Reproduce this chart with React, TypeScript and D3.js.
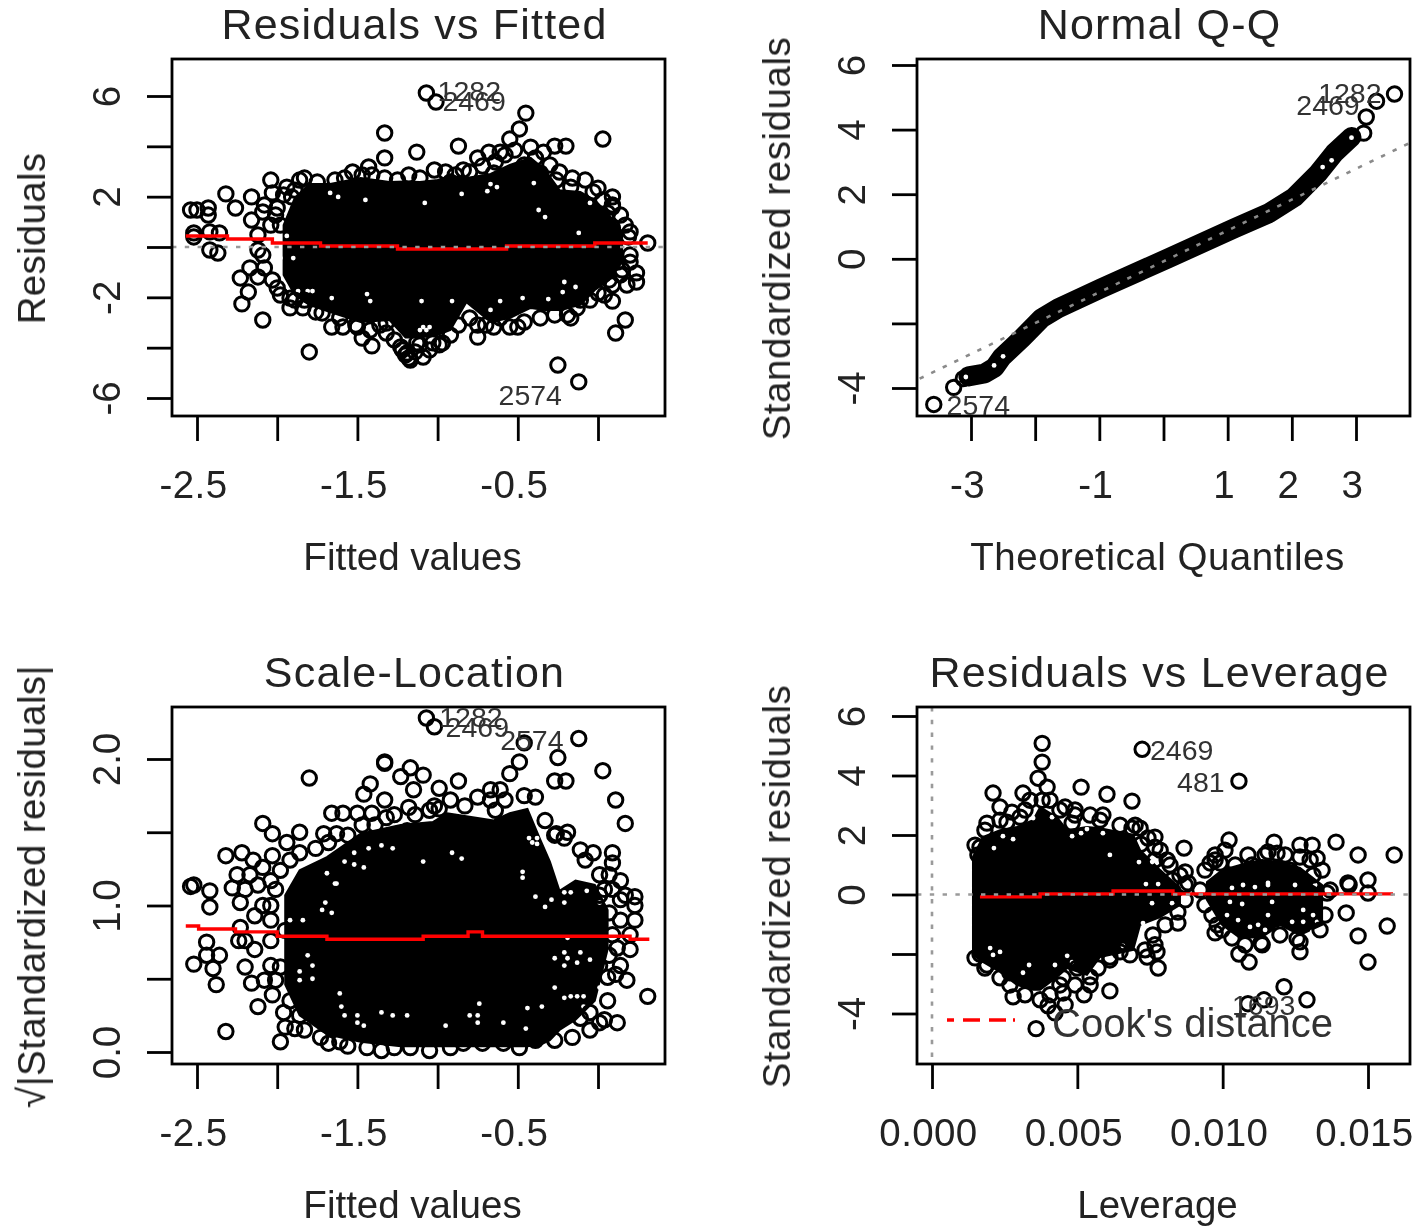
import { useEffect, useRef } from "react";
import * as d3 from "d3";

type Pt = [number, number];

// --- Residuals vs Fitted ---
const rfTicksX = [-2.5, -2, -1.5, -1, -0.5, 0];
const rfLabelsX = [-2.5, -1.5, -0.5];
const rfTicksY = [-6, -4, -2, 0, 2, 4, 6];
const rfLabelsY = [-6, -2, 2, 6];
// dense core: fitted, upper residual, lower residual
const rfCore: [number, number, number][] = [
  [-1.96, 0.87, -1.11], [-1.89, 1.95, -1.91], [-1.8, 2.5, -2.3], [-1.67, 2.5, -2.58],
  [-1.48, 2.74, -2.98], [-1.3, 2.58, -2.9], [-1.2, 2.6, -3.6], [-1.11, 2.58, -3.6], [-1.0, 2.66, -3.5],
  [-0.92, 2.82, -3.3], [-0.82, 2.74, -2.19], [-0.67, 2.9, -2.98], [-0.55, 3.26, -2.82],
  [-0.42, 3.54, -2.42], [-0.33, 3.06, -2.5], [-0.24, 2.26, -2.5], [-0.11, 2.19, -2.3],
  [-0.02, 1.87, -1.71], [0.07, 1.27, -1.31], [0.15, 0.6, -0.6],
];
const rfPoints: Pt[] = [
  [-1.33, 4.53], [-1.33, 3.54], [-1.13, 3.77], [-1.07, 6.12], [-1.01, 5.76], [-1.43, 3.18], [-1.47, 2.86],
  [-1.02, 3.06], [-1.25, 2.66], [-1.64, 2.66], [-1.86, 2.66], [-2.04, 2.66], [-1.94, 2.38], [-2.16, 1.99],
  [-2.32, 2.11], [-2.26, 1.55], [-2.54, 1.47], [-2.5, 1.47], [-2.43, 1.55], [-2.43, 1.27], [-2.42, 0.6],
  [-2.52, 0.56], [-2.36, 0.56], [-2.16, 1.07], [-2.03, 2.15], [-1.91, 1.99], [-2.08, 1.67], [-2.01, 1.27],
  [-1.98, 0.87], [-0.45, 5.32], [-0.49, 4.69], [-0.55, 4.29], [-0.61, 3.77], [-0.68, 3.77], [-0.75, 3.54],
  [-0.87, 4.01], [0.03, 4.29], [-0.27, 4.01], [-0.2, 4.01], [-0.39, 3.54], [-0.46, 3.26], [-0.84, 3.06],
  [-0.92, 2.58], [-0.65, 2.94], [-0.36, 2.94], [-0.26, 2.66], [-0.17, 2.38], [-0.03, 2.19], [0.09, 1.99],
  [0.09, 1.59], [0.06, 1.35], [0.09, 0.75], [0.19, 0.4], [0.31, 0.16], [-0.3, 2.15], [-0.22, 1.87], [-0.3, 1.67],
  [-2.37, -0.24], [-2.42, -0.12], [-2.52, 0.4], [-2.23, -1.23], [-2.18, -1.79], [-2.22, -2.26], [-2.09, -2.9],
  [-1.8, -4.17], [-2.17, -0.83], [-2.12, -1.19], [-2.12, -0.12], [-2.0, -1.63], [-1.92, -2.03], [-1.92, -2.42],
  [-1.84, -2.42], [-1.72, -2.62], [-1.66, -3.18], [-1.59, -3.18], [-1.5, -3.18], [-1.47, -3.62], [-1.41, -3.93],
  [-1.32, -3.42], [-1.32, -3.02], [-1.23, -3.97], [-1.18, -4.41], [-1.09, -4.37], [-1.2, -4.29], [-1.13, -3.81],
  [-1.17, -4.49], [-1.19, -4.21], [-0.97, -3.81], [-1.03, -3.81], [-1.11, -3.89], [-0.87, -3.1], [-0.75, -3.1],
  [-0.75, -3.58], [-0.65, -3.18], [-0.55, -3.18], [-0.5, -3.18], [-0.19, -2.7], [-0.13, -2.42], [0, -1.83],
  [0.09, -2.15], [0.17, -2.9], [0.11, -3.42], [-0.25, -4.69], [-0.12, -5.36], [0.24, -1.03], [0.24, -1.39],
  [0.18, -1.51], [0.07, -1.31], [0.2, -0.32], [0.12, -0.6],
];
// rings packed along the edge of the core
const rfEdge: Pt[] = [
  [-2.09, 1.39], [-2.04, 0.87], [-2.12, 0.48], [-2.0, 1.55], [-1.96, 2.07], [-1.89, 2.26], [-1.83, 2.74], [-1.75, 2.58],
  [-1.58, 2.74], [-1.53, 2.98], [-1.41, 2.86], [-1.33, 2.74], [-1.18, 2.86], [-1.11, 2.74], [-0.95, 2.98], [-0.89, 2.86],
  [-0.8, 2.98], [-0.72, 3.22], [-0.64, 3.38], [-0.58, 3.66], [-0.52, 3.85], [-0.42, 3.97], [-0.34, 3.77], [-0.3, 3.26],
  [-0.24, 2.98], [-0.16, 2.74], [-0.08, 2.66], [0, 2.34], [0.03, 1.87], [0.09, 1.67], [0.14, 1.27], [0.17, 0.87], [0.2, 0.6],
  [-2.09, -0.32], [-2.08, -0.83], [-2.03, -1.31], [-1.98, -1.91], [-1.89, -2.11], [-1.83, -2.11], [-1.76, -2.58],
  [-1.61, -2.82], [-1.51, -3.1], [-1.42, -3.3], [-1.36, -3.1], [-1.27, -3.69], [-1.22, -4.09], [-1.14, -4.17], [-1.05, -4.09],
  [-0.99, -3.89], [-0.92, -3.5], [-0.8, -2.82], [-0.7, -3.1], [-0.61, -2.82], [-0.46, -2.98], [-0.36, -2.82], [-0.27, -2.7],
  [-0.17, -2.82], [-0.11, -2.11], [-0.05, -2.11], [0.04, -1.91], [0.09, -1.51], [0.14, -1.11], [0.2, -0.6], [0.15, -0.91],
];
const rfGaps: Pt[] = [
  [-1.45, 1.87], [-1.62, 1.99], [-1.67, 2.15], [-1.08, 1.75], [-1.94, 0.44], [-0.85, 2.11], [-0.69, 2.22],
  [-0.63, 2.38], [-0.67, 2.5], [-0.37, 1.47], [-0.33, 1.19], [-0.12, 0.56], [-0.05, 1.75], [-0.4, 2.54],
  [-1.9, -0.44], [-1.98, -0.44], [-1.87, -1.75], [-1.81, -1.75], [-1.78, -1.75], [-1.66, -2.03], [-1.44, -1.87],
  [-1.42, -2.15], [-1.1, -2.15], [-0.91, -2.15], [-0.61, -2.15], [-0.47, -2.03], [-0.31, -2.07], [-0.21, -1.39],
  [-0.22, -1.79], [-0.14, -1.59], [-0.67, -2.5], [-1.07, -3.3], [-1.09, -3.18], [-1.05, -3.18], [-1.11, -3.3],
];
const rfSmooth: Pt[] = [
  [-2.57, 0.44], [-2.31, 0.32], [-2.03, 0.16], [-1.73, 0.04], [-1.25, -0.08], [-0.57, 0.04], [-0.02, 0.16], [0.31, 0.16],
];
const rfIds: [string, number, number][] = [["1282", -1.0, 5.8], ["2469", -0.97, 5.4], ["2574", -0.62, -6.28]];

// --- Normal Q-Q ---
const qqTicksX = [-3, -2, -1, 0, 1, 2, 3];
const qqLabelsX = [-3, -1, 1, 2, 3];
const qqTicksY = [-4, -2, 0, 2, 4, 6];
const qqLabelsY = [-4, 0, 2, 4, 6];
const qqBand: Pt[] = [
  [-3.04, -3.64], [-2.79, -3.55], [-2.63, -3.36], [-2.52, -3.05], [-2.21, -2.47], [-1.9, -1.84], [-1.64, -1.53],
  [-0.97, -0.91], [0.08, 0.02], [1.11, 0.95], [1.64, 1.41], [2.04, 1.91], [2.41, 2.65], [2.66, 3.27], [2.93, 3.77],
];
const qqPoints: Pt[] = [[-3.58, -4.51], [-3.27, -3.98], [-3.12, -3.71], [3.6, 5.1], [3.32, 4.88], [3.16, 4.39], [3.12, 3.89]];
const qqGaps: Pt[] = [[-2.64, -3.3], [-2.5, -3.02], [-3.08, -3.66], [2.48, 2.84], [2.62, 3.05], [2.93, 3.75]];
const qqLine: Pt[] = [[-3.8, -3.71], [3.83, 3.58]];
const qqIds: [string, number, number][] = [["1282", 2.41, 4.82], ["2469", 2.07, 4.45], ["2574", -3.38, -4.85]];

// --- Scale-Location ---
const slTicksY = [0, 0.5, 1, 1.5, 2];
const slLabelsY = [0, 1, 2];
const slCore: [number, number, number][] = [
  [-1.95, 1.07, 0.46], [-1.86, 1.24, 0.25], [-1.69, 1.33, 0.12], [-1.48, 1.49, 0.07], [-1.23, 1.55, 0.04],
  [-1.03, 1.57, 0.04], [-0.94, 1.63, 0.04], [-0.65, 1.58, 0.04], [-0.55, 1.63, 0.04], [-0.44, 1.66, 0.04],
  [-0.36, 1.45, 0.05], [-0.3, 1.3, 0.08], [-0.24, 1.1, 0.15], [-0.14, 1.17, 0.22], [-0.02, 1.14, 0.35], [0.06, 0.97, 0.7],
];
const slPoints: Pt[] = [
  [-1.8, 1.87], [-1.33, 1.97], [-1.33, 1.98], [-1.42, 1.83], [-1.46, 1.76], [-2.09, 1.56], [-2.03, 1.49], [-1.86, 1.5],
  [-1.66, 1.63], [-1.59, 1.63], [-1.5, 1.63], [-1.41, 1.63], [-1.33, 1.72], [-1.32, 1.6], [-1.18, 1.67], [-1.23, 1.88],
  [-1.17, 1.94], [-1.09, 1.89], [-1.15, 1.79], [-1.02, 1.68], [-2.32, 1.34], [-2.22, 1.36], [-2.15, 1.31], [-2.03, 1.34],
  [-1.94, 1.43], [-1.71, 1.49], [-1.63, 1.49], [-1.47, 1.55], [-1.19, 1.51], [-1.27, 1.47], [-1.07, 2.28], [-1.02, 2.22],
  [-2.52, 1.14], [-2.42, 1.1], [-2.25, 1.21], [-2.28, 1.12], [-2.54, 1.13], [-2.42, 0.99], [-2.23, 1.02], [-2.04, 1.0],
  [-2.04, 0.9], [-2.23, 0.85], [-2.44, 0.75], [-2.44, 0.66], [-2.36, 0.66], [-2.52, 0.6], [-2.4, 0.57], [-2.38, 0.46],
  [-2.24, 0.76], [-2.16, 0.47], [-2.12, 0.31], [-2.32, 0.14], [-2.2, 0.58], [-2.03, 0.39], [-1.98, 0.58], [-1.96, 0.27],
  [-1.95, 0.17], [-1.98, 0.07], [-1.68, 0.06], [-1.56, 0.04], [-1.44, 0.03], [-1.35, 0.01], [-1.05, 0.01], [-0.84, 0.06],
  [-0.72, 0.06], [-0.59, 0.06], [-0.39, 0.08], [-0.16, 0.1], [0.01, 0.2], [0.12, 0.2], [-0.11, 0.23], [0.31, 0.38],
  [0.18, 0.49], [0.14, 0.59], [0.23, 0.9], [0.23, 1.0], [0.23, 1.06], [0.07, 0.95], [0.12, 0.71], [0.06, 0.51],
  [-0.46, 2.11], [-0.49, 1.98], [-0.55, 1.9], [-0.61, 1.79], [-0.67, 1.79], [-0.75, 1.74], [-0.87, 1.85], [-0.25, 2.01],
  [-0.12, 2.14], [-0.27, 1.85], [-0.2, 1.85], [0.03, 1.92], [0.11, 1.72], [0.17, 1.56], [-0.39, 1.74], [-0.99, 1.66],
  [-0.99, 1.8], [-0.64, 1.65], [-0.19, 1.5], [-0.26, 1.49], [0.09, 1.36], [-0.03, 1.36], [0.09, 1.29], [0.07, 1.21], [-0.11, 1.38],
];
const slEdge: Pt[] = [
  [-2.17, 1.21], [-2.09, 1.26], [-2.04, 1.17], [-1.98, 1.24], [-1.92, 1.31], [-1.86, 1.36], [-1.76, 1.39], [-1.68, 1.43],
  [-1.56, 1.48], [-1.39, 1.55], [-1.27, 1.62], [-1.14, 1.62], [-1.05, 1.65], [-0.92, 1.72], [-0.83, 1.68], [-0.67, 1.72],
  [-0.58, 1.72], [-0.46, 1.75], [-0.33, 1.58], [-0.27, 1.48], [-0.21, 1.46], [-0.08, 1.31], [0.01, 1.21], [0.14, 1.17],
  [0.04, 1.11], [-2.2, 1.11], [-2.12, 1.14], [-2.09, 1.0], [-2.01, 1.11], [-2.14, 0.93], [-2.2, 0.76], [-2.14, 0.7],
  [-2.04, 0.76], [-1.95, 0.83], [-2.04, 0.59], [-2.08, 0.49], [-2.01, 0.49], [-1.92, 0.35], [-1.86, 0.25], [-1.83, 0.15],
  [-1.73, 0.1], [-1.89, 0.16], [-1.61, 0.07], [-1.27, 0.03], [-1.17, 0.03], [-0.92, 0.03], [-0.49, 0.03], [-0.27, 0.08],
  [-0.05, 0.15], [0.04, 0.22], [0.01, 0.9], [0.09, 0.8], [0.14, 0.9], [0.07, 0.66], [0.01, 0.59], [-0.05, 0.53], [0.11, 0.53],
  [0.2, 0.7], [0.2, 0.8], [0.14, 1.04], [0.01, 1.07], [0.09, 1.11], [0.17, 1.07], [0.06, 0.35], [-0.05, 0.27],
];
const slGaps: Pt[] = [
  [-1.81, 0.66], [-1.78, 0.59], [-1.86, 0.55], [-1.86, 0.49], [-1.78, 0.5], [-1.61, 0.4], [-1.6, 0.31], [-1.58, 0.25],
  [-1.5, 0.25], [-1.5, 0.2], [-1.46, 0.18], [-1.35, 0.27], [-1.28, 0.25], [-1.19, 0.25], [-0.95, 0.18], [-0.8, 0.25],
  [-0.75, 0.25], [-0.75, 0.2], [-0.74, 0.33], [-0.59, 0.2], [-0.45, 0.16], [-0.44, 0.3], [-0.35, 0.31], [-0.27, 0.44],
  [-0.27, 0.64], [-0.21, 0.59], [-0.21, 0.68], [-0.19, 0.64], [-0.11, 0.68], [-0.13, 0.61], [-0.05, 0.63], [-0.19, 0.78],
  [-1.84, 0.9], [-1.92, 0.9], [-1.7, 1.02], [-1.72, 0.97], [-1.66, 0.95], [-1.63, 1.15], [-0.39, 1.06], [-0.33, 0.99],
  [-0.29, 1.04], [-0.21, 1.02], [-0.21, 1.09], [-0.17, 1.09], [-0.07, 1.1], [0.01, 1.02], [-0.17, 0.38], [-0.13, 0.38],
  [-0.09, 0.38], [-0.21, 0.37], [-0.09, 0.31], [0.01, 0.44], [-1.69, 1.22], [-1.52, 1.36], [-1.43, 1.39], [-1.35, 1.41],
  [-1.28, 1.39], [-1.09, 1.3], [-1.52, 1.28], [-1.46, 1.26], [-1.58, 1.3], [-1.64, 1.15], [-0.41, 1.43], [-0.38, 1.42],
  [-0.43, 1.46], [-0.38, 1.46], [-0.91, 1.36], [-0.85, 1.32], [-0.47, 1.23], [-0.47, 1.19],
];
const slSmooth: Pt[] = [
  [-2.57, 0.86], [-2.49, 0.84], [-2.26, 0.82], [-2.0, 0.79], [-1.69, 0.77], [-1.09, 0.79], [-0.81, 0.82], [-0.72, 0.79], [0.2, 0.77], [0.32, 0.77],
];
const slIds: [string, number, number][] = [["1282", -0.99, 2.22], ["2469", -0.95, 2.15], ["2574", -0.61, 2.06]];

// --- Residuals vs Leverage ---
const rlTicksX = [0, 0.005, 0.01, 0.015];
const rlTicksY = [-4, -2, 0, 2, 4, 6];
const rlLabelsY = [-4, 0, 2, 4, 6];
const rlCoreA: [number, number, number][] = [
  [0.00141, 1.26, -2.03], [0.00175, 1.93, -2.27], [0.00234, 2.16, -2.6], [0.00292, 2.27, -3.04], [0.00348, 2.5, -3.2],
  [0.00372, 2.94, -3.2], [0.0043, 2.6, -2.77], [0.00465, 2.16, -2.47], [0.00533, 2.27, -2.7], [0.00578, 2.23, -2.1],
  [0.00692, 2.0, -1.86], [0.00716, 1.49, -1.02], [0.00785, 0.82, -0.76], [0.00853, 0.22, -0.35],
];
const rlCoreB: [number, number, number][] = [
  [0.00946, 0.42, -0.18], [0.00998, 0.82, -1.02], [0.0106, 0.99, -1.46], [0.01136, 1.16, -1.43],
  [0.01197, 1.09, -1.02], [0.01266, 0.89, -1.36], [0.01342, 0.32, -1.02],
];
const rlPoints: Pt[] = [
  [0.00379, 5.08], [0.00379, 4.45], [0.00365, 3.91], [0.00396, 3.61], [0.0021, 3.41], [0.00234, 2.94], [0.00189, 2.4],
  [0.00313, 3.41], [0.00513, 3.61], [0.00602, 3.37], [0.00688, 3.14], [0.00723, 4.88], [0.00458, 2.94], [0.00492, 2.84],
  [0.00482, 2.4], [0.00588, 2.67], [0.00379, 3.17], [0.00258, 2.43], [0.00303, 2.6], [0.00688, 2.23], [0.00716, 2.23],
  [0.00767, 1.93], [0.00719, 1.69], [0.00767, 1.59], [0.00165, 1.59], [0.00158, 1.33], [0.01056, 3.81], [0.01022, 1.83],
  [0.00867, 1.56], [0.0139, 1.76], [0.01466, 1.33], [0.0159, 1.33], [0.01431, 0.39], [0.015, 0.49], [0.01177, 1.76],
  [0.01156, 1.43], [0.01187, 1.39], [0.01266, 1.66], [0.01308, 1.66], [0.01266, 1.26], [0.01325, 1.22], [0.01101, 0.99],
  [0.00974, 1.33], [0.00991, 1.06], [0.00957, 1.06], [0.01025, 0.65], [0.00871, 0.76], [0.00881, 0.39], [0.01311, 0.65],
  [0.01232, 0.82], [0.00809, 1.16], [0.01435, 0.32], [0.015, 0.05], [0.01425, -0.62], [0.01566, -1.06], [0.01466, -1.39],
  [0.015, -2.27], [0.01256, -1.49], [0.01266, -1.93], [0.01132, -1.63], [0.01056, -2.0], [0.01091, -2.27], [0.00974, -1.29],
  [0.01359, 0.05], [0.01301, 0.05], [0.01211, -3.1], [0.0129, -3.54], [0.01142, -3.54], [0.01087, -3.67], [0.00846, -0.96],
  [0.00778, -2.47], [0.00774, -1.93], [0.0074, -2.1], [0.0076, -1.36], [0.00612, -3.24], [0.00523, -3.37], [0.00279, -3.44],
  [0.00358, -4.51], [0.00451, -3.31], [0.00458, -3.71], [0.00399, -3.74], [0.00423, -3.98], [0.00451, -2.8], [0.00544, -2.77],
  [0.00499, -2.47], [0.00612, -2.1], [0.00647, -1.93], [0.00268, -2.63], [0.00165, -2.0], [0.00189, -2.37], [0.00981, -1.02],
];
const rlEdge: Pt[] = [
  [0.00148, 1.66], [0.00182, 2.16], [0.00234, 2.5], [0.00275, 2.77], [0.0032, 2.84], [0.00337, 3.17], [0.00406, 3.17],
  [0.0044, 2.84], [0.00492, 2.67], [0.00544, 2.67], [0.00578, 2.5], [0.00647, 2.33], [0.00699, 2.33], [0.00743, 1.9],
  [0.00785, 1.49], [0.00819, 0.99], [0.00853, 0.65], [0.00871, 0.32], [0.00826, 0.49], [0.00767, 1.16], [0.00871, -0.18],
  [0.00846, -0.59], [0.00802, -1.02], [0.00767, -1.69], [0.00733, -1.86], [0.00681, -2.03], [0.00612, -2.2], [0.00571, -2.47],
  [0.00544, -3.04], [0.00492, -3.04], [0.0044, -3.04], [0.00406, -3.37], [0.00372, -3.54], [0.0032, -3.37], [0.00268, -3.04],
  [0.00234, -2.8], [0.00182, -2.47], [0.00148, -2.13], [0.00939, 0.82], [0.00974, 1.16], [0.01008, 1.49], [0.01043, 0.99],
  [0.01087, 1.33], [0.01146, 1.33], [0.01215, 1.33], [0.01301, 1.16], [0.01342, 0.82], [0.0137, 0.15], [0.01352, -0.69],
  [0.01335, -1.19], [0.01266, -1.59], [0.01197, -1.36], [0.01136, -1.69], [0.01077, -1.69], [0.01032, -1.46], [0.00998, -1.19],
  [0.00963, -0.69], [0.00939, -0.35], [0.00922, 0.15],
];
const rlGaps: Pt[] = [
  [0.00244, 1.96], [0.00279, 1.86], [0.00213, 1.56], [0.00482, 1.96], [0.00513, 2.06], [0.00533, 2.2], [0.00588, 2.06],
  [0.00612, 1.33], [0.00712, 1.09], [0.00757, 1.09], [0.00757, 1.33], [0.00736, 0.35], [0.00778, 0.35], [0.00413, 2.6],
  [0.00348, 2.57], [0.00757, -0.29], [0.00826, -0.29], [0.00726, -0.96], [0.002, -1.8], [0.00234, -1.93], [0.0021, -2.03],
  [0.00334, -2.37], [0.00465, -2.06], [0.00482, -2.27], [0.00423, -2.37], [0.00657, -1.73], [0.00313, -2.63], [0.01067, -0.32],
  [0.01053, -0.86], [0.01015, -0.69], [0.01025, -0.25], [0.01156, -0.69], [0.01122, -1.02], [0.01094, -1.09], [0.0117, -0.25],
  [0.01146, -1.19], [0.01187, -1.19], [0.01239, -0.92], [0.01277, -0.92], [0.01325, -0.92], [0.01277, -0.52], [0.01311, -0.69],
  [0.01308, -1.26], [0.0107, 0.32], [0.01111, 0.25], [0.01156, 0.32], [0.01032, 0.22], [0.01249, 0.32], [0.01318, 0.32],
  [0.01156, 0.39],
];
const rlSmooth: Pt[] = [[0.00165, -0.08], [0.00372, 0.02], [0.00623, 0.12], [0.00829, 0.02], [0.01586, 0.02]];
const rlIds: [string, number, number][] = [["2469", 0.0075, 4.51], ["481", 0.00843, 3.44], ["1693", 0.01032, -4.04]];

interface PanelSpec {
  left: number;
  top: number;
  title: string;
  xLabel: string;
  yLabel: string;
  xSpacing: number;
  ySpacing: number;
  x: d3.ScaleLinear<number, number>;
  y: d3.ScaleLinear<number, number>;
  ticksX: number[];
  labelsX: number[];
  ticksY: number[];
  labelsY: number[];
  fmtX: (v: number) => string;
  fmtY: (v: number) => string;
  cores?: [number, number, number][][];
  band?: Pt[];
  gaps: Pt[];
  points: Pt[];
  smooth?: Pt[];
  ids: [string, number, number][];
}

const BOX_W = 493;
const BOX_H = 357;
const FONT = "'Liberation Sans', Arial, sans-serif";

const fittedX = () => d3.scaleLinear().domain([-2.5, 0]).range([197, 598]);

const panels: PanelSpec[] = [
  {
    left: 172, top: 59, title: "Residuals vs Fitted", xLabel: "Fitted values", yLabel: "Residuals", xSpacing: 0, ySpacing: 0.3,
    x: fittedX(), y: d3.scaleLinear().domain([-6, 6]).range([398, 96]),
    ticksX: rfTicksX, labelsX: rfLabelsX, ticksY: rfTicksY, labelsY: rfLabelsY,
    fmtX: String, fmtY: String, cores: [rfCore], gaps: rfGaps, points: [...rfPoints, ...rfEdge], smooth: rfSmooth, ids: rfIds,
  },
  {
    left: 917, top: 59, title: "Normal Q-Q", xLabel: "Theoretical Quantiles", yLabel: "Standardized residuals", xSpacing: 0.5, ySpacing: 0.55,
    x: d3.scaleLinear().domain([-3, 3]).range([971, 1356]), y: d3.scaleLinear().domain([-4, 6]).range([388, 65]),
    ticksX: qqTicksX, labelsX: qqLabelsX, ticksY: qqTicksY, labelsY: qqLabelsY,
    fmtX: String, fmtY: String, band: qqBand, gaps: qqGaps, points: qqPoints, ids: qqIds,
  },
  {
    left: 172, top: 707, title: "Scale-Location", xLabel: "Fitted values", yLabel: "\u221A|Standardized residuals|", xSpacing: 0, ySpacing: 0.4,
    x: fittedX(), y: d3.scaleLinear().domain([0, 2]).range([1052, 759]),
    ticksX: rfTicksX, labelsX: rfLabelsX, ticksY: slTicksY, labelsY: slLabelsY,
    fmtX: String, fmtY: (v) => v.toFixed(1), cores: [slCore], gaps: slGaps, points: [...slPoints, ...slEdge], smooth: slSmooth, ids: slIds,
  },
  {
    left: 917, top: 707, title: "Residuals vs Leverage", xLabel: "Leverage", yLabel: "Standardized residuals", xSpacing: 0, ySpacing: 0.55,
    x: d3.scaleLinear().domain([0, 0.015]).range([932, 1368]), y: d3.scaleLinear().domain([-4, 6]).range([1013.5, 716]),
    ticksX: rlTicksX, labelsX: rlTicksX, ticksY: rlTicksY, labelsY: rlLabelsY,
    fmtX: (v) => v.toFixed(3), fmtY: String, cores: [rlCoreA, rlCoreB], gaps: rlGaps, points: [...rlPoints, ...rlEdge], smooth: rlSmooth, ids: rlIds,
  },
];

function drawPanel(root: d3.Selection<SVGGElement, unknown, null, undefined>, p: PanelSpec, i: number) {
  const g = root.append("g");
  const bottom = p.top + BOX_H;
  const right = p.left + BOX_W;
  const clipId = `clip-${i}`;

  g.append("clipPath").attr("id", clipId).append("rect")
    .attr("x", p.left).attr("y", p.top).attr("width", BOX_W).attr("height", BOX_H);

  // dense part of the cloud
  const area = d3.area<[number, number, number]>()
    .x((d) => p.x(d[0])).y0((d) => p.y(d[2])).y1((d) => p.y(d[1]));
  (p.cores || []).forEach((core) => {
    g.append("path").attr("d", area(core)).attr("fill", "#000").attr("stroke", "#000").attr("stroke-width", 2);
  });

  if (p.band) {
    const line = d3.line<Pt>().x((d) => p.x(d[0])).y((d) => p.y(d[1]));
    g.append("path").attr("d", line(p.band)).attr("fill", "none").attr("stroke", "#000")
      .attr("stroke-width", 20).attr("stroke-linejoin", "round").attr("stroke-linecap", "round");
  }

  // specks of white left between the rings
  g.selectAll(".gap").data(p.gaps).enter().append("circle").attr("class", "gap")
    .attr("cx", (d) => p.x(d[0])).attr("cy", (d) => p.y(d[1])).attr("r", 2.4).attr("fill", "#fff");

  g.selectAll(".pt").data(p.points).enter().append("circle").attr("class", "pt")
    .attr("cx", (d) => p.x(d[0])).attr("cy", (d) => p.y(d[1])).attr("r", 7.2)
    .attr("fill", "none").attr("stroke", "#000").attr("stroke-width", 3);

  if (p.smooth) {
    const step = d3.line<Pt>().x((d) => p.x(d[0])).y((d) => p.y(d[1])).curve(d3.curveStepAfter);
    g.append("path").attr("d", step(p.smooth)).attr("fill", "none").attr("stroke", "#f00").attr("stroke-width", 3.4);
  }

  // reference lines
  const dotted = (sel: d3.Selection<SVGLineElement, unknown, null, undefined>) =>
    sel.attr("stroke", "#9a9a9a").attr("stroke-width", 2.6).attr("stroke-dasharray", "4.4 8.4").attr("clip-path", `url(#${clipId})`);
  if (i === 0 || i === 3) {
    g.append("line").attr("x1", p.left).attr("x2", right).attr("y1", p.y(0)).attr("y2", p.y(0)).call(dotted);
  }
  if (i === 3) {
    g.append("line").attr("x1", p.x(0)).attr("x2", p.x(0)).attr("y1", p.top).attr("y2", bottom).call(dotted);
  }
  if (i === 1) {
    g.append("line").attr("x1", p.x(qqLine[0][0])).attr("y1", p.y(qqLine[0][1]))
      .attr("x2", p.x(qqLine[1][0])).attr("y2", p.y(qqLine[1][1])).call(dotted).attr("stroke", "#8a8a8a");
  }

  // axes
  const xAxis = g.append("g").attr("transform", `translate(0,${bottom})`).call(
    d3.axisBottom(p.x).tickValues(p.ticksX).tickSize(25)
      .tickFormat((v) => (p.labelsX.includes(+v) ? p.fmtX(+v) : ""))
  );
  const yAxis = g.append("g").attr("transform", `translate(${p.left},0)`).call(
    d3.axisLeft(p.y).tickValues(p.ticksY).tickSize(25)
      .tickFormat((v) => (p.labelsY.includes(+v) ? p.fmtY(+v) : ""))
  );
  [xAxis, yAxis].forEach((a) => {
    a.select(".domain").remove();
    a.selectAll("line").attr("stroke", "#000").attr("stroke-width", 2.8);
    a.selectAll("text").attr("fill", "#222").style("font-family", FONT).style("font-size", "38.5px");
  });
  xAxis.selectAll("text").attr("x", -4).attr("y", 82).attr("dy", 0).attr("text-anchor", "middle").style("letter-spacing", "0.4px");
  yAxis.selectAll("text").attr("x", 0).attr("y", 0).attr("dy", 0).attr("text-anchor", "middle")
    .attr("transform", "translate(-52,0) rotate(-90)");

  g.append("rect").attr("x", p.left).attr("y", p.top).attr("width", BOX_W).attr("height", BOX_H)
    .attr("fill", "none").attr("stroke", "#000").attr("stroke-width", 2.8);

  // point ids
  g.selectAll(".id").data(p.ids).enter().append("text").attr("class", "id")
    .attr("x", (d) => p.x(d[1])).attr("y", (d) => p.y(d[2])).attr("fill", "#333")
    .style("font-family", FONT).style("font-size", "28.5px").text((d) => d[0]);

  // titles
  g.append("text").attr("x", p.left + BOX_W / 2 - 4).attr("y", p.top - 20).attr("text-anchor", "middle")
    .attr("fill", "#222").style("font-family", FONT).style("font-size", "43px").style("letter-spacing", "1.2px").text(p.title);
  g.append("text").attr("x", p.left + BOX_W / 2 - 6).attr("y", bottom + 154).attr("text-anchor", "middle")
    .attr("fill", "#222").style("font-family", FONT).style("font-size", "38.5px")
    .style("letter-spacing", `${p.xSpacing}px`).text(p.xLabel);
  g.append("text").attr("transform", `translate(${p.left - 127},${p.top + BOX_H / 2 + 1}) rotate(-90)`)
    .attr("text-anchor", "middle").attr("fill", "#222").style("font-family", FONT).style("font-size", "38.5px")
    .style("letter-spacing", `${p.ySpacing}px`).text(p.yLabel);

  // Cook's distance legend
  if (i === 3) {
    g.append("line").attr("x1", 947).attr("x2", 1015).attr("y1", 1020).attr("y2", 1020)
      .attr("stroke", "#f00").attr("stroke-width", 3.4).attr("stroke-dasharray", "7 9 17 9 17");
    g.append("text").attr("x", 1052).attr("y", 1037).attr("fill", "#333")
      .style("font-family", FONT).style("font-size", "40px").text("Cook's distance");
  }
}

export default function App() {
  const ref = useRef<SVGSVGElement>(null);

  useEffect(() => {
    if (!ref.current) return;
    const svg = d3.select(ref.current);
    svg.selectAll("*").remove();

    // the source is a small raster scaled up, so everything is a little soft
    svg.append("filter").attr("id", "soft").append("feGaussianBlur").attr("stdDeviation", 0.7);

    const root = svg.append("g").attr("filter", "url(#soft)") as unknown as d3.Selection<SVGGElement, unknown, null, undefined>;
    panels.forEach((p, i) => drawPanel(root, p, i));
  }, []);

  return (
    <svg
      ref={ref}
      width={1418}
      height={1230}
      style={{ position: "absolute", left: 0, top: 0, background: "#fff" }}
    />
  );
}
